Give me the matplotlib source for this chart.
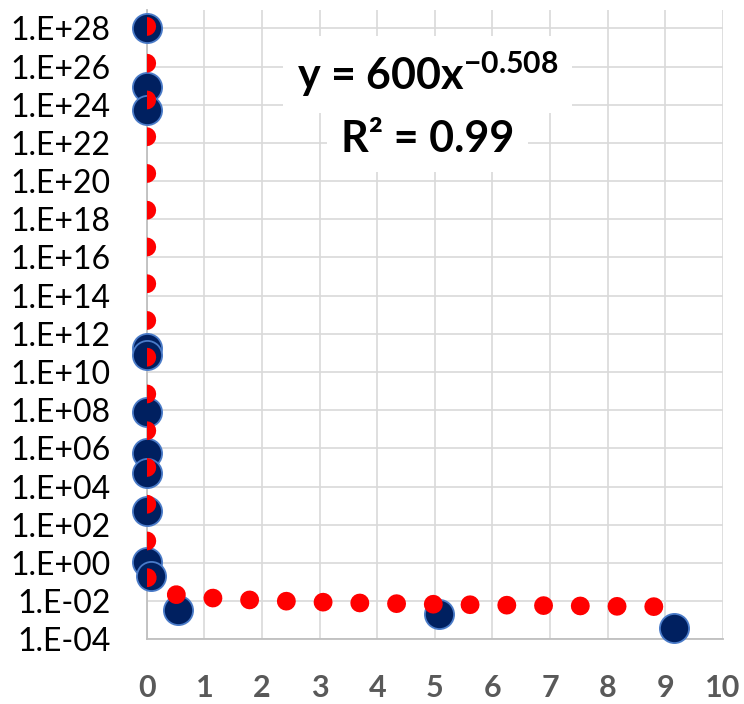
import matplotlib
matplotlib.use("Agg")
import matplotlib.pyplot as plt
import numpy as np

# data
x_vals = [0, 0, 0, 0, 0, 0, 0, 0, 0, 0, 0.07, 0.55, 5.07, 9.15]
y_vals = [1e28, 8.9e24, 5.6e23, 1.9e11, 7.4e10, 7.6e7, 5.5e5, 4.9e4,
          5.0e2, 1.07, 0.2, 3.4e-3, 2.0e-3, 4.0e-4]

# power trendline as drawn (y = a * x^b)
trend_a = 0.0155
trend_b = -0.508

x_ticks = list(range(0, 11))
y_exps = list(range(-4, 29, 2))

plt.rcParams['font.family'] = ['Lato', 'DejaVu Sans']
plt.rcParams['mathtext.fontset'] = 'custom'
plt.rcParams['mathtext.bf'] = 'Lato:bold'
plt.rcParams['mathtext.rm'] = 'Lato'
plt.rcParams['mathtext.default'] = 'bf'

fig = plt.figure(figsize=(7.44, 7.04), dpi=100)
ax = fig.add_axes([0.1972, 0.0919, 0.7746, 0.8939])

ax.set_yscale('log')
ax.set_xlim(0, 10)
ax.set_ylim(1e-4, 10 ** 28.96)

ax.scatter(x_vals, y_vals, s=21 ** 2, color='#002060', edgecolor='#4A7BC8',
           linewidth=1.3, zorder=3, clip_on=False)

xt = np.logspace(-62, np.log10(max(x_vals)), 4000)
ax.plot(xt, trend_a * xt ** trend_b, color='#FF0000', linewidth=13.5,
        linestyle=(0.5, (0.01, 1.95)), dash_capstyle='round', zorder=4)

ax.set_xticks(x_ticks)
ax.set_yticks([10.0 ** e for e in y_exps])
ax.set_yticklabels([f"1.E{e:+03d}" for e in y_exps])
ax.yaxis.set_minor_locator(matplotlib.ticker.NullLocator())

ax.tick_params(axis='y', length=0, pad=26, labelsize=23, labelcolor='black')
ax.tick_params(axis='x', length=0, pad=25, labelsize=22, labelcolor='#595959')
for lab in ax.get_xticklabels():
    lab.set_fontweight('bold')

ax.grid(True, color='#D9D9D9', linewidth=1.2, zorder=0)
ax.set_axisbelow(True)
for side in ['top', 'right']:
    ax.spines[side].set_visible(False)
for side in ['left', 'bottom']:
    ax.spines[side].set_color('#BFBFBF')
    ax.spines[side].set_linewidth(1.3)

ax.text(0.488, 0.873, r"y = 600x$^{-0.508}$", transform=ax.transAxes,
        ha='center', va='baseline', fontsize=31, fontweight='bold',
        bbox=dict(facecolor='white', edgecolor='none', pad=10), zorder=5)
ax.text(0.488, 0.775, "R² = 0.99", transform=ax.transAxes,
        ha='center', va='baseline', fontsize=31, fontweight='bold',
        bbox=dict(facecolor='white', edgecolor='none', pad=10), zorder=5)

fig.savefig("out.png", dpi=100)
